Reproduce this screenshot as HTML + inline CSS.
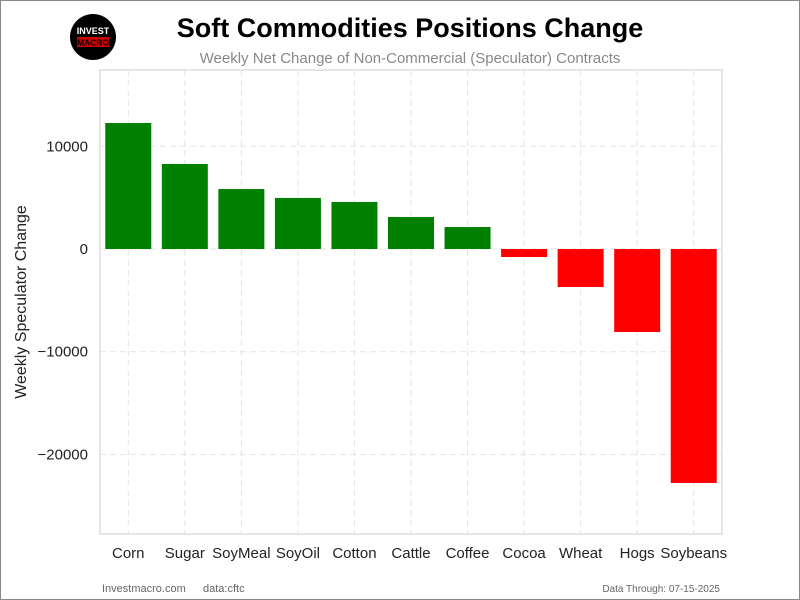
<!DOCTYPE html>
<html><head><meta charset="utf-8"><style>
body{margin:0;background:#fff;}
svg{display:block;font-family:"Liberation Sans",Arial,sans-serif;}
</style></head><body>
<svg id="c" width="800" height="600">
<rect x="0.5" y="0.5" width="799" height="599" fill="#fff" stroke="#888"/>
<g>
<circle cx="93" cy="37" r="23" fill="#000"/>
<text x="93" y="34" text-anchor="middle" fill="#fff" font-size="9" font-weight="bold">INVEST</text>
<rect x="77" y="37" width="32" height="10" fill="#c00"/>
<text x="93" y="45.5" text-anchor="middle" fill="#000" font-size="8.5" font-weight="bold">MACRO</text>
</g>
<text x="410" y="37" text-anchor="middle" font-size="27" font-weight="bold" fill="#000">Soft Commodities Positions Change</text>
<text x="410" y="63" text-anchor="middle" font-size="15" fill="#888">Weekly Net Change of Non-Commercial (Speculator) Contracts</text>
<rect x="100" y="70" width="622" height="464" fill="none" stroke="#ccc"/>
<g id="grid"></g><g id="bars"></g><g id="axes"></g>
<text transform="translate(26,302) rotate(-90)" text-anchor="middle" font-size="16" fill="#222">Weekly Speculator Change</text>
<text x="102" y="592" font-size="11" fill="#666">Investmacro.com</text>
<text x="203" y="592" font-size="11" fill="#666">data:cftc</text>
<text x="720" y="592" text-anchor="end" font-size="10" fill="#666">Data Through: 07-15-2025</text>
</svg>
<script>
const categories=["Corn","Sugar","SoyMeal","SoyOil","Cotton","Cattle","Coffee","Cocoa","Wheat","Hogs","Soybeans"];
const values=[12270,8280,5840,4970,4580,3120,2140,-780,-3700,-8080,-22780];
const yTicks=[10000,0,-10000,-20000];
const yTickLabels=["10000","0","\u221210000","\u221220000"];
const ns="http://www.w3.org/2000/svg";
const L=100,R=722,T=70,B=534,yMax=17430,yMin=-27750;
const y=v=>T+(yMax-v)/(yMax-yMin)*(B-T);
const step=(R-L)/categories.length;
const x=i=>L+step*(i+0.5);
function mk(t,a,p){const e=document.createElementNS(ns,t);for(const k in a)e.setAttribute(k,a[k]);p.appendChild(e);return e;}
const g=document.getElementById('grid'),b=document.getElementById('bars'),ax=document.getElementById('axes');
yTicks.forEach((v,i)=>{
 const l=mk('line',{x1:L,x2:R,y1:y(v),y2:y(v),stroke:'#e4e4e4','stroke-dasharray':'6,4'},g);
 
 
 const t=mk('text',{x:L-12,y:y(v)+5,'text-anchor':'end','font-size':'15',fill:'#222'},ax);
 t.textContent=yTickLabels[i];
 
 
});
categories.forEach((c,i)=>{
 const l=mk('line',{x1:x(i),x2:x(i),y1:T,y2:B,stroke:'#e4e4e4','stroke-dasharray':'6,4'},g);
 
 
 const v=values[i],w=46;
 const r=mk('rect',{x:x(i)-w/2,y:Math.min(y(v),y(0)),width:w,height:Math.abs(y(v)-y(0)),fill:v>=0?'#008000':'#ff0000'},b);
 
 
 const t=mk('text',{x:x(i),y:B+24,'text-anchor':'middle','font-size':'15',fill:'#222'},ax);
 t.textContent=c;
 
 
});
</script>
</body></html>
